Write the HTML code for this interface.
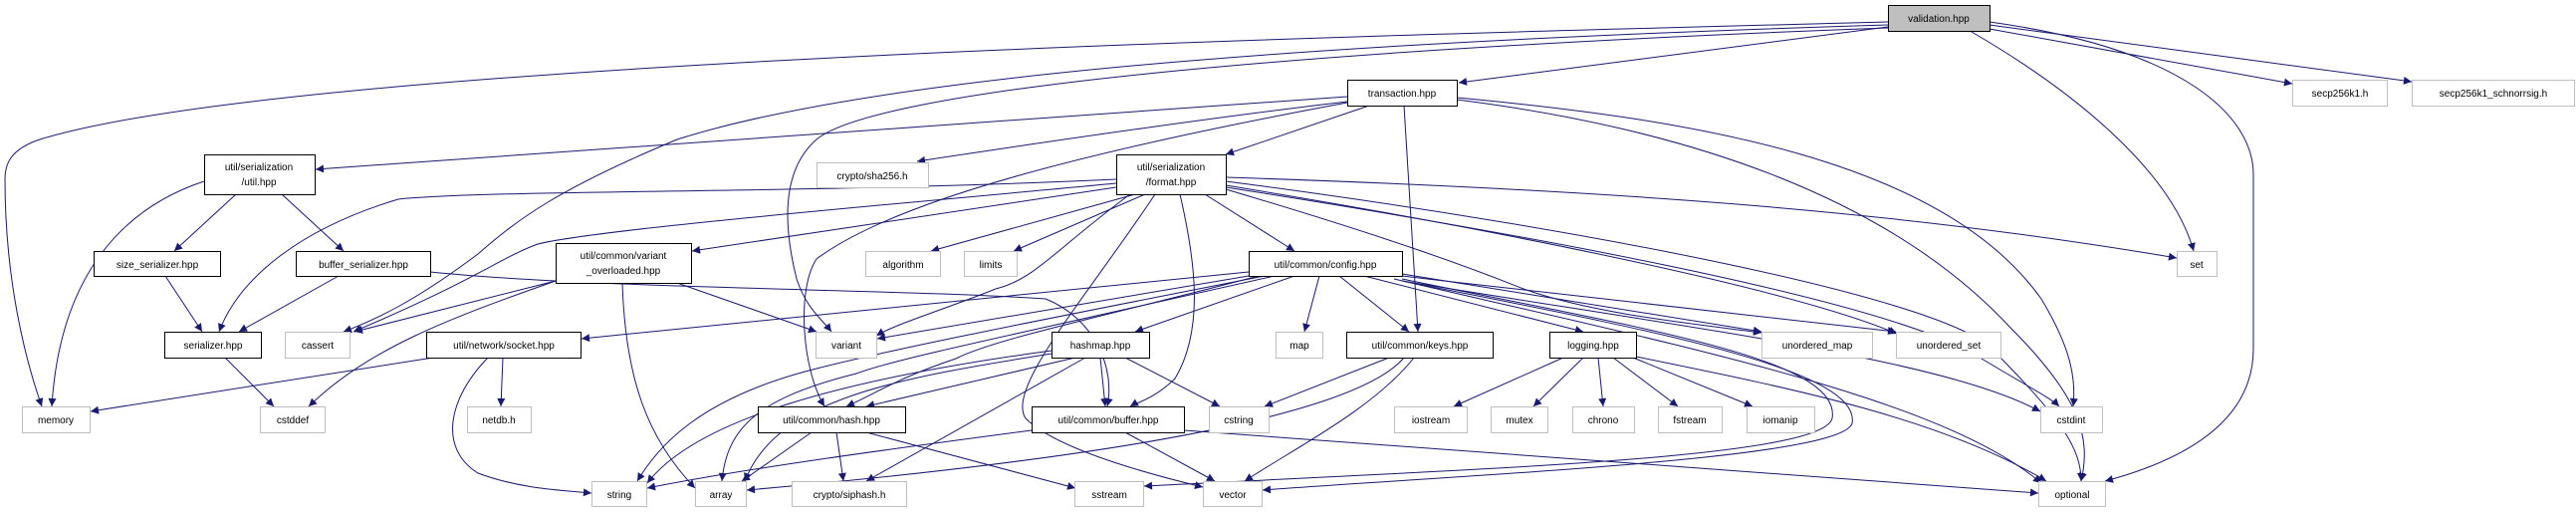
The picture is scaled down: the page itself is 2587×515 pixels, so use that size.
<!DOCTYPE html>
<html><head><meta charset="utf-8"><style>
html,body{margin:0;padding:0;background:#fff;}
svg{display:block;}
text{font-family:"Liberation Sans",sans-serif;font-size:10px;fill:#000;text-anchor:middle;}
.e{fill:none;stroke:#191970;stroke-width:1;marker-end:url(#a);}
.n{fill:#fff;stroke:#000;stroke-width:1;}
.g{fill:#fff;stroke:#bfbfbf;stroke-width:1;}
</style></head><body>
<svg width="2587" height="515" viewBox="0 0 2587 515" xmlns="http://www.w3.org/2000/svg">
<defs><marker id="a" viewBox="0 0 10 10" refX="10" refY="5" markerWidth="10" markerHeight="8" orient="auto" markerUnits="userSpaceOnUse"><path d="M0,0 L10,5 L0,10 z" fill="#191970"/></marker></defs>
<!-- edges -->
<path class="e" d="M1896,22 C1400,35 300,60 40,140 C10,150 5,165 5,180 C5,280 25,360 42,408"/>
<path class="e" d="M1896,25 C1400,40 900,70 680,140 C560,190 520,220 480,255 C420,300 380,320 345,333"/>
<path class="e" d="M1896,27 L1465,83"/>
<path class="e" d="M1896,28 C1300,50 880,90 820,140 C780,175 790,240 800,280 C810,310 825,320 835,333"/>
<path class="e" d="M1980,32 C2080,90 2180,170 2203,252"/>
<path class="e" d="M1998,22 C2200,50 2263,120 2263,175 L2263,350 C2263,420 2200,460 2114,483"/>
<path class="e" d="M1998,29 L2302,84"/>
<path class="e" d="M1998,25 L2422,82"/>
<path class="e" d="M1353,97 L317,170"/>
<path class="e" d="M1353,102 C1200,120 1000,150 921,162"/>
<path class="e" d="M1375,106 L1231,155"/>
<path class="e" d="M1410,106 L1424,333"/>
<path class="e" d="M1463,98 C1700,120 1950,160 2050,300 C2080,350 2085,380 2082,408"/>
<path class="e" d="M1463,100 C1700,130 1900,200 2020,330 C2090,400 2100,440 2090,483"/>
<path class="e" d="M1353,103 C1100,150 900,200 820,260 C800,290 805,370 828,408"/>
<path class="e" d="M1121,180 C800,195 500,190 400,200 C300,230 240,280 220,333"/>
<path class="e" d="M1121,184 C900,205 600,230 540,245 C500,260 480,280 355,333"/>
<path class="e" d="M1121,188 L695,252"/>
<path class="e" d="M1140,195 L935,252"/>
<path class="e" d="M1150,195 L1018,252"/>
<path class="e" d="M1135,195 C1060,250 1040,280 1000,290 C950,310 900,325 880,337"/>
<path class="e" d="M1160,195 C1090,300 1010,390 1030,420 C1060,450 1150,475 1208,489"/>
<path class="e" d="M1185,195 C1200,260 1210,330 1180,380 C1160,400 1140,405 1135,408"/>
<path class="e" d="M1210,195 L1300,252"/>
<path class="e" d="M1231,178 C1600,190 1900,210 2186,259"/>
<path class="e" d="M1231,182 C1600,230 1950,300 2000,350 C2070,420 2090,450 2090,483"/>
<path class="e" d="M1231,188 C1500,230 1900,300 1990,360 C2040,390 2060,400 2068,408"/>
<path class="e" d="M1231,186 C1500,230 1800,290 1905,335"/>
<path class="e" d="M1231,190 C1400,240 1480,270 1530,290 C1600,315 1700,325 1769,334"/>
<path class="e" d="M1254,273 L584,340"/>
<path class="e" d="M1254,277 L881,340"/>
<path class="e" d="M1300,277 L1140,333"/>
<path class="e" d="M1325,277 L1310,333"/>
<path class="e" d="M1345,277 L1415,333"/>
<path class="e" d="M1370,277 L1590,333"/>
<path class="e" d="M1264,277 C1100,320 1000,340 960,360 C900,380 880,395 850,408"/>
<path class="e" d="M1270,277 C1000,330 900,350 820,370 C700,400 660,450 640,483"/>
<path class="e" d="M1280,277 C1000,340 900,360 860,375 C760,400 730,430 725,483"/>
<path class="e" d="M1408,275 L1769,333"/>
<path class="e" d="M1408,277 C1600,300 1800,320 1904,333"/>
<path class="e" d="M1408,282 C1700,330 1950,360 2049,413"/>
<path class="e" d="M1400,280 C1700,350 1950,400 2050,485"/>
<path class="e" d="M1408,280 C1650,330 1850,360 1840,420 C1830,460 1500,470 1149,488"/>
<path class="e" d="M1408,282 C1650,330 1870,370 1860,425 C1850,460 1500,475 1268,492"/>
<path class="e" d="M1080,359 L870,408"/>
<path class="e" d="M1105,359 L1110,408"/>
<path class="e" d="M1130,359 L1225,408"/>
<path class="e" d="M1090,359 L870,483"/>
<path class="e" d="M1056,355 C900,380 780,400 748,483"/>
<path class="e" d="M1056,352 C850,380 700,420 650,485"/>
<path class="e" d="M815,434 L745,483"/>
<path class="e" d="M840,434 L847,483"/>
<path class="e" d="M870,434 L1080,490"/>
<path class="e" d="M1130,434 L1220,483"/>
<path class="e" d="M1189,432 L2047,495"/>
<path class="e" d="M1036,432 C900,450 750,470 650,490"/>
<path class="e" d="M1395,359 L1270,408"/>
<path class="e" d="M1420,359 C1380,410 1300,450 1250,483"/>
<path class="e" d="M1410,359 C1350,430 1000,470 750,492"/>
<path class="e" d="M1570,359 L1460,408"/>
<path class="e" d="M1590,359 L1540,408"/>
<path class="e" d="M1605,359 L1610,408"/>
<path class="e" d="M1620,359 L1685,408"/>
<path class="e" d="M1640,359 L1760,408"/>
<path class="e" d="M1643,358 C1800,390 1950,420 2055,483"/>
<path class="e" d="M205,182 C120,210 60,280 52,408"/>
<path class="e" d="M237,195 L175,252"/>
<path class="e" d="M283,195 L345,252"/>
<path class="e" d="M166,277 L203,333"/>
<path class="e" d="M340,277 L240,333"/>
<path class="e" d="M432,273 C600,290 900,290 1050,300 C1100,320 1120,370 1112,408"/>
<path class="e" d="M226,359 L275,408"/>
<path class="e" d="M558,282 L356,333"/>
<path class="e" d="M558,282 C450,320 370,350 310,408"/>
<path class="e" d="M680,284 L820,333"/>
<path class="e" d="M625,284 C628,380 650,440 698,490"/>
<path class="e" d="M435,359 L91,413"/>
<path class="e" d="M505,359 L503,408"/>
<path class="e" d="M490,359 C450,400 440,450 480,475 C520,490 560,492 594,495"/>
<!-- nodes -->
<rect x="1896.5" y="5.5" width="102" height="26" fill="#bfbfbf" stroke="#000"/><text x="1947" y="22">validation.hpp</text>
<rect class="n" x="1353.5" y="80.5" width="110" height="26"/><text x="1408" y="97">transaction.hpp</text>
<rect class="g" x="2302.5" y="80.5" width="95" height="26"/><text x="2350" y="97">secp256k1.h</text>
<rect class="g" x="2422.5" y="80.5" width="163" height="26"/><text x="2504" y="97">secp256k1_schnorrsig.h</text>
<rect class="n" x="205.5" y="155.5" width="111" height="40"/><text x="260" y="171">util/serialization</text><text x="260" y="186">/util.hpp</text>
<rect class="n" x="1121.5" y="155.5" width="110" height="40"/><text x="1176" y="171">util/serialization</text><text x="1176" y="186">/format.hpp</text>
<rect class="g" x="820.5" y="163.5" width="112" height="25"/><text x="876" y="180">crypto/sha256.h</text>
<rect class="n" x="94.5" y="252.5" width="127" height="25"/><text x="158" y="269">size_serializer.hpp</text>
<rect class="n" x="297.5" y="252.5" width="135" height="25"/><text x="365" y="269">buffer_serializer.hpp</text>
<rect class="n" x="558.5" y="244.5" width="136" height="40"/><text x="626" y="260">util/common/variant</text><text x="626" y="275">_overloaded.hpp</text>
<rect class="g" x="869.5" y="252.5" width="75" height="25"/><text x="907" y="269">algorithm</text>
<rect class="g" x="968.5" y="252.5" width="53" height="25"/><text x="995" y="269">limits</text>
<rect class="n" x="1254.5" y="252.5" width="154" height="25"/><text x="1331" y="269">util/common/config.hpp</text>
<rect class="g" x="2186.5" y="252.5" width="40" height="25"/><text x="2206" y="269">set</text>
<rect class="n" x="165.5" y="333.5" width="97" height="26"/><text x="214" y="350">serializer.hpp</text>
<rect class="g" x="286.5" y="333.5" width="65" height="26"/><text x="319" y="350">cassert</text>
<rect class="n" x="428.5" y="333.5" width="155" height="26"/><text x="506" y="350">util/network/socket.hpp</text>
<rect class="g" x="819.5" y="333.5" width="61" height="26"/><text x="850" y="350">variant</text>
<rect class="n" x="1056.5" y="333.5" width="98" height="26"/><text x="1105" y="350">hashmap.hpp</text>
<rect class="g" x="1281.5" y="333.5" width="47" height="26"/><text x="1305" y="350">map</text>
<rect class="n" x="1352.5" y="333.5" width="147" height="26"/><text x="1426" y="350">util/common/keys.hpp</text>
<rect class="n" x="1556.5" y="333.5" width="87" height="26"/><text x="1600" y="350">logging.hpp</text>
<rect class="g" x="1769.5" y="333.5" width="111" height="26"/><text x="1825" y="350">unordered_map</text>
<rect class="g" x="1904.5" y="333.5" width="105" height="26"/><text x="1957" y="350">unordered_set</text>
<rect class="g" x="22.5" y="408.5" width="68" height="26"/><text x="56" y="425">memory</text>
<rect class="g" x="261.5" y="408.5" width="65" height="26"/><text x="294" y="425">cstddef</text>
<rect class="g" x="469.5" y="408.5" width="64" height="26"/><text x="501" y="425">netdb.h</text>
<rect class="n" x="761.5" y="408.5" width="148" height="26"/><text x="835" y="425">util/common/hash.hpp</text>
<rect class="n" x="1036.5" y="408.5" width="153" height="26"/><text x="1113" y="425">util/common/buffer.hpp</text>
<rect class="g" x="1214.5" y="408.5" width="60" height="26"/><text x="1244" y="425">cstring</text>
<rect class="g" x="1400.5" y="408.5" width="73" height="26"/><text x="1437" y="425">iostream</text>
<rect class="g" x="1497.5" y="408.5" width="57" height="26"/><text x="1526" y="425">mutex</text>
<rect class="g" x="1579.5" y="408.5" width="62" height="26"/><text x="1610" y="425">chrono</text>
<rect class="g" x="1665.5" y="408.5" width="64" height="26"/><text x="1697" y="425">fstream</text>
<rect class="g" x="1754.5" y="408.5" width="68" height="26"/><text x="1788" y="425">iomanip</text>
<rect class="g" x="2049.5" y="408.5" width="62" height="26"/><text x="2080" y="425">cstdint</text>
<rect class="g" x="594.5" y="483.5" width="55" height="25"/><text x="622" y="500">string</text>
<rect class="g" x="698.5" y="483.5" width="51" height="25"/><text x="724" y="500">array</text>
<rect class="g" x="795.5" y="483.5" width="115" height="25"/><text x="853" y="500">crypto/siphash.h</text>
<rect class="g" x="1079.5" y="483.5" width="69" height="25"/><text x="1114" y="500">sstream</text>
<rect class="g" x="1208.5" y="483.5" width="59" height="25"/><text x="1238" y="500">vector</text>
<rect class="g" x="2047.5" y="483.5" width="67" height="25"/><text x="2081" y="500">optional</text>
</svg>
</body></html>
